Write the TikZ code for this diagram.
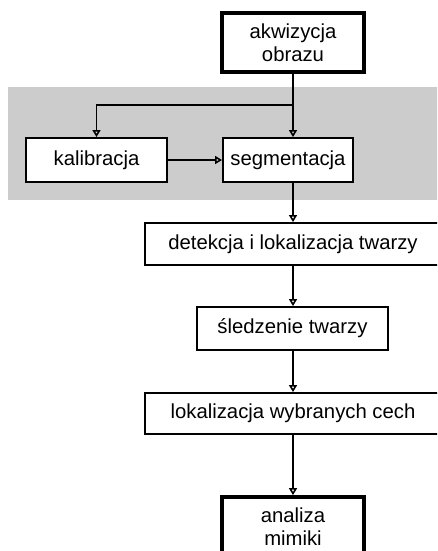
\documentclass[tikz,border=0pt]{standalone}
\usepackage{fontspec}
\setmainfont{Liberation Sans}
\usetikzlibrary{arrows.meta}
\tikzset{
  box/.style={draw=black, line width=1.9pt, fill=white, rectangle, inner sep=0pt, align=center,
    font=\fontsize{20.3}{23.5}\selectfont},
  thickbox/.style={box, line width=3.8pt},
  arr/.style={line width=1.9pt, -{Triangle[open, width=8pt, length=7pt, line width=1.6pt]}},
}
\begin{document}
\begin{tikzpicture}[x=1pt,y=-1pt]
\useasboundingbox (0,0) rectangle (437,551);
\clip (0,0) rectangle (437,551);
\fill[white] (0,0) rectangle (437,551);
% gray background band
\fill[fill={rgb,255:red,204;green,204;blue,204}] (8,87) rectangle (445,200);
% nodes
\node[thickbox, minimum width=142pt, minimum height=59pt] (akw) at (293,42.5) {akwizycja\\obrazu};
\node[box, minimum width=141pt, minimum height=44pt] (kal) at (96.5,160) {kalibracja};
\node[box, minimum width=130pt, minimum height=44pt] (seg) at (288,160) {segmentacja};
\node[box, minimum width=296pt, minimum height=42pt] (det) at (293,244) {detekcja i lokalizacja twarzy};
\node[box, minimum width=191pt, minimum height=43pt] (sle) at (292.5,328.5) {śledzenie twarzy};
\node[box, minimum width=296pt, minimum height=41pt] (lok) at (293,413.5) {lokalizacja wybranych cech};
\node[thickbox, minimum width=142pt, minimum height=59pt] (ana) at (293,526.5) {analiza\\mimiki};
\coordinate (br) at (293,105);
% connectors
\draw[arr] (akw.south) -- (akw.south |- seg.north);
\draw[arr] (br) -| (kal.north);
\draw[arr] (kal.east) -- (seg.west);
\draw[arr] (akw.south |- seg.south) -- (akw.south |- det.north);
\draw[arr] (det.south) -- (sle.north -| det.south);
\draw[arr] (sle.south -| det.south) -- (lok.north);
\draw[arr] (lok.south) -- (ana.north);
\end{tikzpicture}
\end{document}
